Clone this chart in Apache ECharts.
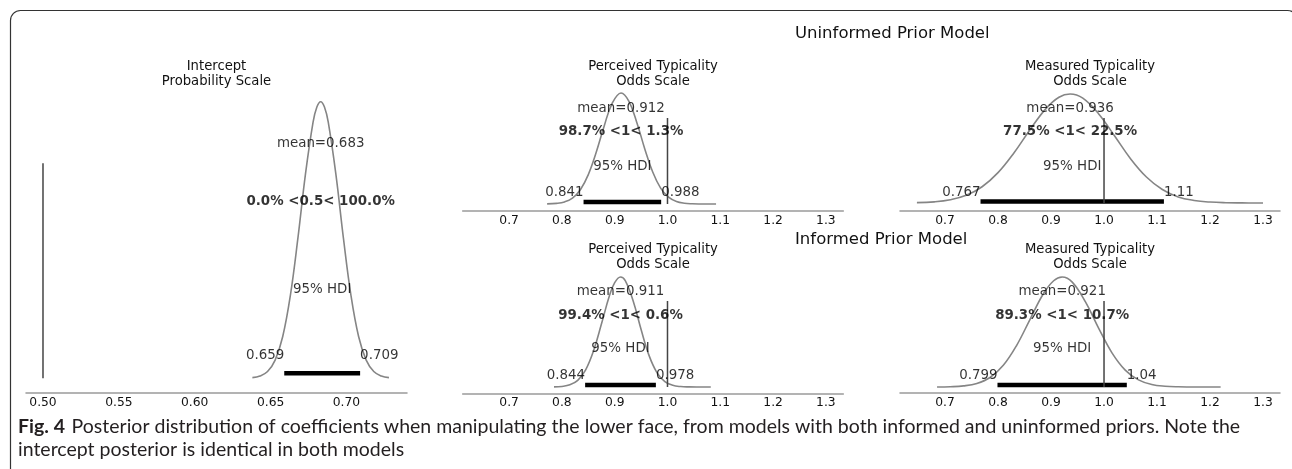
<!DOCTYPE html>
<html><head><meta charset="utf-8">
<script src="https://cdn.jsdelivr.net/npm/echarts@6/dist/echarts.min.js"></script>
<style>html,body{margin:0;padding:0;background:#fff}#c{width:1292px;height:469px}</style>
</head><body><div id="c"></div>
<script>
// ---------- DATA ----------
// Intercept, probability scale
const intX = [0.638,0.643,0.648,0.653,0.658,0.663,0.668,0.673,0.678,0.6805,0.683,0.6855,0.688,0.693,0.698,0.703,0.708,0.713,0.718,0.723,0.728];
const intY = [0.07,0.25,0.76,2.04,4.68,9.25,15.7,22.9,28.7,30.4,31.0,30.4,28.7,22.9,15.7,9.25,4.68,2.04,0.76,0.25,0.07];
// Perceived typicality, uninformed prior (odds scale)
const pUX = [0.772,0.79,0.805,0.82,0.835,0.85,0.865,0.88,0.895,0.912,0.927,0.942,0.957,0.972,0.987,1.002,1.017,1.032,1.047,1.062,1.077,1.092];
const pUY = [0.01,0.06,0.20,0.56,1.35,2.78,4.89,7.36,9.50,10.5,9.71,7.69,5.21,3.02,1.50,0.64,0.23,0.07,0.02,0.005,0.002,0.0];
// Perceived typicality, informed prior
const pIX = [0.785,0.80,0.815,0.83,0.845,0.86,0.875,0.89,0.90,0.911,0.92,0.935,0.95,0.965,0.98,0.995,1.01,1.025,1.04,1.06,1.082];
const pIY = [0.01,0.06,0.23,0.71,1.82,3.85,6.72,9.69,11.1,11.7,11.3,9.15,6.11,3.36,1.53,0.57,0.18,0.045,0.01,0.002,0.0];
// Measured typicality, uninformed prior
const mUX = [0.647,0.68,0.71,0.74,0.77,0.80,0.83,0.86,0.89,0.915,0.936,0.96,0.99,1.02,1.05,1.08,1.11,1.14,1.17,1.20,1.23,1.26,1.30];
const mUY = [0.015,0.05,0.14,0.33,0.70,1.31,2.16,3.15,4.06,4.56,4.7,4.52,3.84,2.89,1.91,1.12,0.58,0.26,0.11,0.04,0.012,0.004,0.0];
// Measured typicality, informed prior
const mIX = [0.685,0.71,0.735,0.76,0.785,0.81,0.835,0.86,0.885,0.905,0.921,0.94,0.965,0.99,1.015,1.04,1.065,1.09,1.115,1.14,1.18,1.22];
const mIY = [0.004,0.018,0.067,0.21,0.56,1.28,2.45,3.97,5.48,6.28,6.5,6.2,5.03,3.47,2.02,1.0,0.42,0.15,0.045,0.012,0.001,0.0];

const means      = [0.683, 0.912, 0.911, 0.936, 0.921];
const hdiLo      = [0.659, 0.841, 0.844, 0.767, 0.799];
const hdiHi      = [0.709, 0.988, 0.978, 1.113, 1.043];
const hdiLoText  = ['0.659','0.841','0.844','0.767','0.799'];
const hdiHiText  = ['0.709','0.988','0.978','1.11','1.04'];
const refVals    = [0.5, 1, 1, 1, 1];
const pctText    = ['0.0% <0.5< 100.0%','98.7% <1< 1.3%','99.4% <1< 0.6%','77.5% <1< 22.5%','89.3% <1< 10.7%'];
const meanText   = ['mean=0.683','mean=0.912','mean=0.911','mean=0.936','mean=0.921'];
const titles     = [['Intercept','Probability Scale'],['Perceived Typicality','Odds Scale'],['Perceived Typicality','Odds Scale'],['Measured Typicality','Odds Scale'],['Measured Typicality','Odds Scale']];
const probTicks  = [0.50,0.55,0.60,0.65,0.70];
const oddsTicks  = [0.7,0.8,0.9,1.0,1.1,1.2,1.3];
const modelTitles = ['Uninformed Prior Model','Informed Prior Model'];
const captionBold = 'Fig. 4';
const captionLines = ['Posterior distribution of coefficients when manipulating the lower face, from models with both informed and uninformed priors. Note the','intercept posterior is identical in both models'];

// ---------- LAYOUT ----------
const xs = [intX,pUX,pIX,mUX,mIX], ys = [intY,pUY,pIY,mUY,mIY];
const layout = [
  {grid:{left:26,top:100,width:381,height:293}, titleY:67, xMin:0.4888,xMax:0.7399,yMin:-1.65,yMax:31.19, ticks:probTicks,dec:2, barY:0.55, refTop:24.1, meanY:26.3, pctY:19.8, hdiTY:10.0, labY:2.6},
  {grid:{left:462.7,top:90,width:380.6,height:121}, titleY:67, xMin:0.6121,xMax:1.333,yMin:-0.662,yMax:10.78, ticks:oddsTicks,dec:1, barY:0.2, refTop:8.14, meanY:9.0, pctY:6.85, hdiTY:3.5, labY:1.08},
  {grid:{left:462.7,top:270,width:380.6,height:123.3}, titleY:250, xMin:0.6121,xMax:1.333,yMin:-0.67,yMax:12.44, ticks:oddsTicks,dec:1, barY:0.22, refTop:9.15, meanY:10.15, pctY:7.6, hdiTY:4.05, labY:1.22},
  {grid:{left:900,top:90,width:380,height:120.7}, titleY:67, xMin:0.6151,xMax:1.332,yMin:-0.332,yMax:4.873, ticks:oddsTicks,dec:1, barY:0.06, refTop:3.67, meanY:4.06, pctY:3.08, hdiTY:1.56, labY:0.45},
  {grid:{left:900,top:270,width:380,height:123}, titleY:250, xMin:0.6151,xMax:1.332,yMin:-0.355,yMax:6.915, ticks:oddsTicks,dec:1, barY:0.12, refTop:5.08, meanY:5.62, pctY:4.22, hdiTY:2.25, labY:0.68}
];

const FONT = 'DejaVu Sans';
const grids=[], xAxes=[], yAxes=[], series=[], graphics=[];
layout.forEach((L,i)=>{
  grids.push(Object.assign({containLabel:false}, L.grid));
  xAxes.push({type:'value', gridIndex:i, min:L.xMin, max:L.xMax,
    axisLine:{show:true, onZero:false, lineStyle:{color:'#9a9a9a', width:1.5}},
    axisTick:{show:false}, splitLine:{show:false},
    axisLabel:{customValues:L.ticks, margin:4, fontFamily:FONT, fontSize:12.3, color:'#111',
      formatter:(v)=>Number(v).toFixed(L.dec)}});
  yAxes.push({type:'value', gridIndex:i, min:L.yMin, max:L.yMax, show:false, splitLine:{show:false}});
  series.push({type:'line', xAxisIndex:i, yAxisIndex:i, data:xs[i].map((x,k)=>[x,ys[i][k]]),
    smooth:0.4, symbol:'none', lineStyle:{color:'#858585', width:1.6}, silent:true, z:2});
  series.push({type:'line', xAxisIndex:i, yAxisIndex:i, data:[[hdiLo[i],L.barY],[hdiHi[i],L.barY]],
    symbol:'none', lineStyle:{color:'#000', width:4.5, cap:'butt'}, silent:true, z:3});
  series.push({type:'line', xAxisIndex:i, yAxisIndex:i, data:[[refVals[i],0],[refVals[i],L.refTop]],
    symbol:'none', lineStyle:{color:'#444', width:1.5}, silent:true, z:4});
  const mid=(hdiLo[i]+hdiHi[i])/2;
  const lab=(name,x,y,extra)=>({name:name, value:[x,y], label:Object.assign({show:true, formatter:'{b}', position:'inside', align:'center', verticalAlign:'middle', fontFamily:FONT, fontSize:13.4, color:'#000'}, extra||{})});
  series.push({type:'scatter', xAxisIndex:i, yAxisIndex:i, symbol:'circle', symbolSize:1, silent:true, z:5,
    itemStyle:{color:'rgba(0,0,0,0)'},
    labelLayout:{hideOverlap:false},
    data:[
      lab(meanText[i], means[i], L.meanY),
      lab(pctText[i], means[i], L.pctY, {fontWeight:'bold'}),
      lab('95% HDI', mid, L.hdiTY),
      lab(hdiLoText[i], hdiLo[i], L.labY, {align:'right', offset:[-5,0]}),
      lab(hdiHiText[i], hdiHi[i], L.labY, {align:'left', offset:[5,0]})
    ]});
  const cx = L.grid.left + L.grid.width/2;
  graphics.push({type:'text', x:cx, y:L.titleY, style:{text:titles[i][0], font:'13.2px "DejaVu Sans"', fill:'#111', textAlign:'center', textVerticalAlign:'middle'}, silent:true});
  graphics.push({type:'text', x:cx, y:L.titleY+15, style:{text:titles[i][1], font:'13.2px "DejaVu Sans"', fill:'#111', textAlign:'center', textVerticalAlign:'middle'}, silent:true});
});
// model titles
graphics.push({type:'text', x:795, y:34, style:{text:modelTitles[0], font:'16.5px "DejaVu Sans"', fill:'#111', textAlign:'left', textVerticalAlign:'middle'}, silent:true});
graphics.push({type:'text', x:795, y:240, style:{text:modelTitles[1], font:'16.5px "DejaVu Sans"', fill:'#111', textAlign:'left', textVerticalAlign:'middle'}, silent:true});
// frame
graphics.push({type:'rect', shape:{x:10.5,y:10.5,width:1287,height:520,r:10}, style:{fill:null, stroke:'#333', lineWidth:1.2}, silent:true, z:-1});
// caption
graphics.push({type:'text', x:18, y:427, style:{text:'{b|'+captionBold+'}  {n|'+captionLines[0]+'}',
  rich:{b:{font:'bold 19.5px Lato', fill:'#231f20'}, n:{font:'19.5px Lato', fill:'#231f20'}}, textVerticalAlign:'middle'}, silent:true});
graphics.push({type:'text', x:18, y:450, style:{text:captionLines[1], font:'19.5px Lato', fill:'#231f20', textVerticalAlign:'middle'}, silent:true});

const chart = echarts.init(document.getElementById('c'));
chart.setOption({animation:false, backgroundColor:'#fff', grid:grids, xAxis:xAxes, yAxis:yAxes, series:series, graphic:graphics});
</script></body></html>
